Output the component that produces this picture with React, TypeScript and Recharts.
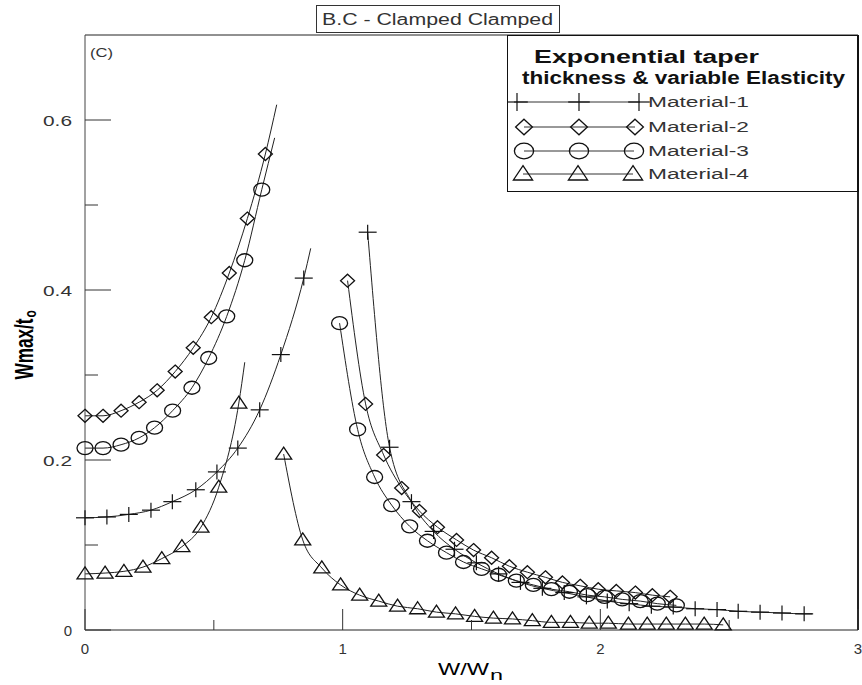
import React from 'react';
import { ComposedChart, Line, XAxis, YAxis, ReferenceLine, Legend, Label } from 'recharts';

const FONT = '"Liberation Sans", Arial, sans-serif';
const INK = '#111';
const TEXT = '#333';

// Material-1 (plus)
const m1LeftX = [0, 0.085, 0.17, 0.256, 0.339, 0.43, 0.512, 0.593, 0.678, 0.76, 0.849];
const m1LeftY = [0.132, 0.133, 0.136, 0.141, 0.151, 0.165, 0.186, 0.214, 0.259, 0.324, 0.414];
const m1LeftTail = [0.876, 0.449];
const m1RightX = [1.097, 1.182, 1.267, 1.353, 1.434, 1.519, 1.605, 1.69, 1.775, 1.86, 1.946, 2.027, 2.112, 2.198, 2.283, 2.368, 2.453, 2.535, 2.62, 2.705, 2.791];
const m1RightY = [0.468, 0.215, 0.151, 0.116, 0.095, 0.079, 0.066, 0.056, 0.049, 0.044, 0.039, 0.034, 0.031, 0.028, 0.027, 0.025, 0.024, 0.022, 0.021, 0.02, 0.019];
const m1RightTail = [2.822, 0.019];

// Material-2 (diamond)
const m2LeftX = [0, 0.07, 0.14, 0.21, 0.28, 0.35, 0.42, 0.49, 0.56, 0.63, 0.7];
const m2LeftY = [0.252, 0.252, 0.258, 0.268, 0.282, 0.304, 0.332, 0.368, 0.42, 0.484, 0.56];
const m2LeftTail = [0.744, 0.618];
const m2RightX = [1.019, 1.089, 1.159, 1.229, 1.298, 1.368, 1.442, 1.508, 1.578, 1.647, 1.717, 1.787, 1.853, 1.922, 1.992, 2.062, 2.136, 2.202, 2.271];
const m2RightY = [0.411, 0.266, 0.206, 0.167, 0.14, 0.121, 0.106, 0.094, 0.085, 0.075, 0.068, 0.062, 0.056, 0.052, 0.048, 0.046, 0.044, 0.041, 0.039];

// Material-3 (circle)
const m3LeftX = [0, 0.07, 0.14, 0.21, 0.27, 0.34, 0.415, 0.48, 0.55, 0.62, 0.686];
const m3LeftY = [0.214, 0.214, 0.218, 0.226, 0.238, 0.258, 0.285, 0.32, 0.369, 0.435, 0.518];
const m3LeftTail = [0.736, 0.579];
const m3RightX = [0.988, 1.058, 1.124, 1.19, 1.26, 1.329, 1.403, 1.469, 1.539, 1.605, 1.674, 1.74, 1.81, 1.88, 1.95, 2.016, 2.085, 2.155, 2.221, 2.295];
const m3RightY = [0.361, 0.236, 0.18, 0.147, 0.122, 0.105, 0.091, 0.08, 0.072, 0.065, 0.058, 0.053, 0.048, 0.045, 0.041, 0.039, 0.036, 0.034, 0.031, 0.029];

// Material-4 (triangle)
const m4LeftX = [0, 0.078, 0.151, 0.225, 0.298, 0.376, 0.45, 0.519, 0.597];
const m4LeftY = [0.066, 0.067, 0.069, 0.074, 0.084, 0.098, 0.121, 0.168, 0.267];
const m4LeftTail = [0.62, 0.315];
const m4RightX = [0.771, 0.845, 0.919, 0.992, 1.066, 1.14, 1.213, 1.291, 1.364, 1.438, 1.512, 1.585, 1.659, 1.736, 1.81, 1.884, 1.957, 2.031, 2.109, 2.182, 2.256, 2.33, 2.403, 2.477];
const m4RightY = [0.207, 0.106, 0.073, 0.053, 0.041, 0.034, 0.028, 0.025, 0.021, 0.019, 0.016, 0.014, 0.013, 0.011, 0.009, 0.009, 0.008, 0.008, 0.007, 0.007, 0.007, 0.007, 0.007, 0.006];

const xTicks = [0, 0.5, 1, 1.5, 2, 2.5, 3];
const yTicks = [0, 0.1, 0.2, 0.3, 0.4, 0.5, 0.6];
const legendNames = ['Material-1', 'Material-2', 'Material-3', 'Material-4'];

type Kind = 'plus' | 'diamond' | 'circle' | 'triangle';
type Pt = { x: number; y: number; tail?: boolean };

function series(xs: number[], ys: number[], tail?: number[]): Pt[] {
  const pts: Pt[] = xs.map((x, i) => ({ x, y: ys[i] }));
  if (tail) pts.push({ x: tail[0], y: tail[1], tail: true });
  return pts;
}

const branches: { id: string; kind: Kind; data: Pt[] }[] = [
  { id: 'm1L', kind: 'plus', data: series(m1LeftX, m1LeftY, m1LeftTail) },
  { id: 'm1R', kind: 'plus', data: series(m1RightX, m1RightY, m1RightTail) },
  { id: 'm2L', kind: 'diamond', data: series(m2LeftX, m2LeftY, m2LeftTail) },
  { id: 'm2R', kind: 'diamond', data: series(m2RightX, m2RightY) },
  { id: 'm3L', kind: 'circle', data: series(m3LeftX, m3LeftY, m3LeftTail) },
  { id: 'm3R', kind: 'circle', data: series(m3RightX, m3RightY) },
  { id: 'm4L', kind: 'triangle', data: series(m4LeftX, m4LeftY, m4LeftTail) },
  { id: 'm4R', kind: 'triangle', data: series(m4RightX, m4RightY) },
];

function Marker({ kind, cx, cy, s = 1 }: { kind: Kind; cx: number; cy: number; s?: number }) {
  const common = { fill: 'none', stroke: INK, strokeWidth: 1.3 };
  if (kind === 'plus') {
    return (
      <g stroke={INK} strokeWidth={1.2}>
        <line x1={cx - 9 * s} x2={cx + 9 * s} y1={cy} y2={cy} />
        <line x1={cx} x2={cx} y1={cy - 7.5 * s} y2={cy + 7.5 * s} />
      </g>
    );
  }
  if (kind === 'diamond') {
    return <polygon {...common} points={`${cx},${cy - 6.5 * s} ${cx + 7 * s},${cy} ${cx},${cy + 6.5 * s} ${cx - 7 * s},${cy}`} />;
  }
  if (kind === 'circle') {
    return <ellipse {...common} cx={cx} cy={cy} rx={8 * s} ry={6.5 * s} />;
  }
  return <polygon {...common} points={`${cx},${cy - 7 * s} ${cx + 8 * s},${cy + 5 * s} ${cx - 8 * s},${cy + 5 * s}`} />;
}

const dotFor = (kind: Kind) => (props: any) => {
  const { cx, cy, payload, index } = props;
  if (payload?.tail || cx == null || cy == null) return <g key={`${kind}-${index}`} />;
  return (
    <g key={`${kind}-${index}`}>
      <Marker kind={kind} cx={cx} cy={cy} />
    </g>
  );
};

function XTick(props: any) {
  const { x, y, payload } = props;
  const v = payload.value;
  const major = Number.isInteger(v);
  return (
    <g>
      <line x1={x} x2={x} y1={y} y2={y - (major ? 21 : 10)} stroke={TEXT} />
      {major && (
        <text x={x} y={y + 24} textAnchor="middle" fontSize={15} fill={TEXT} fontFamily={FONT}>
          {String(v)}
        </text>
      )}
    </g>
  );
}

function YTick(props: any) {
  const { x, y, payload } = props;
  const v = payload.value;
  const major = Math.round(v * 10) % 2 === 0;
  const label = v === 0 ? '0' : v.toFixed(1);
  return (
    <g>
      <line x1={x} x2={x + (major ? 26 : 13)} y1={y} y2={y} stroke={TEXT} />
      {major &&
        (label === '0' ? (
          <text x={x - 13} y={y + 6} textAnchor="end" fontSize={15} fill={TEXT} fontFamily={FONT}>
            0
          </text>
        ) : (
          <text x={x - 42} y={y + 6} fontSize={15} fill={TEXT} fontFamily={FONT} textLength={29} lengthAdjust="spacingAndGlyphs">
            {label}
          </text>
        ))}
    </g>
  );
}

function YLabel(props: any) {
  const vb = props.viewBox || { x: 0, y: 35, width: 85, height: 595 };
  const cy = vb.y + vb.height / 2 + 10;
  return (
    <g transform={`translate(${vb.x + 33},${cy + 37}) scale(1.4,1) rotate(-90)`} fontFamily={FONT} fill="#000">
      <text x={0} y={0} fontSize={18} fontWeight="bold" textLength={61} lengthAdjust="spacingAndGlyphs">
        Wmax/t
      </text>
      <text x={62} y={2} fontSize={12} fontWeight="bold">
        o
      </text>
    </g>
  );
}

function XLabel(props: any) {
  const vb = props.viewBox || { x: 85, y: 630, width: 773, height: 55 };
  const left = vb.x + vb.width / 2 - 33.5;
  const base = vb.y + 45;
  return (
    <g fontFamily={FONT} fill="#000">
      <text x={left} y={base} fontSize={17} textLength={51} lengthAdjust="spacingAndGlyphs">
        W/W
      </text>
      <text x={left + 52} y={base + 5} fontSize={15} textLength={13} lengthAdjust="spacingAndGlyphs">
        n
      </text>
    </g>
  );
}

const legendKinds: Kind[] = ['plus', 'diamond', 'circle', 'triangle'];
const legendRows = [
  { y: 67, line: [7, 133], marks: [10, 72, 132] },
  { y: 92, line: [17, 128], marks: [17, 72, 128] },
  { y: 116, line: [17, 127], marks: [17, 72, 127] },
  { y: 139, line: [16, 126], marks: [16, 71, 126] },
];

function LegendBox() {
  return (
    <svg width={352} height={157} style={{ display: 'block' }} fontFamily={FONT}>
      <rect x={0.5} y={0.5} width={350} height={156} fill="#fff" stroke={INK} />
      <line x1={351} x2={351} y1={0} y2={157} stroke={INK} strokeWidth={2} />
      <text x={27} y={28} fontSize={18} fontWeight="bold" fill="#111" textLength={225} lengthAdjust="spacingAndGlyphs">
        Exponential taper
      </text>
      <text x={15} y={49} fontSize={18} fontWeight="bold" fill="#111" textLength={323} lengthAdjust="spacingAndGlyphs">
        thickness &amp; variable Elasticity
      </text>
      {legendRows.map((r, i) => (
        <g key={legendNames[i]}>
          <line x1={r.line[0]} x2={r.line[1]} y1={r.y} y2={r.y} stroke={TEXT} />
          {r.marks.map((mx) => (
            <Marker key={mx} kind={legendKinds[i]} cx={mx} cy={r.y} s={1.2} />
          ))}
          <text x={141} y={r.y + 5} fontSize={14} fill={TEXT} textLength={101} lengthAdjust="spacingAndGlyphs">
            {legendNames[i]}
          </text>
        </g>
      ))}
    </svg>
  );
}

export default function App() {
  return (
    <div style={{ position: 'absolute', left: 0, top: 0, width: 862, height: 685, background: '#fff' }}>
      <ComposedChart width={862} height={685} margin={{ top: 35, right: 4, bottom: 0, left: 0 }}>
        <XAxis
          type="number"
          dataKey="x"
          domain={[0, 3]}
          ticks={xTicks}
          interval={0}
          height={55}
          tickSize={0}
          tickMargin={0}
          tick={<XTick />}
          axisLine={{ stroke: '#222' }}
          allowDuplicatedCategory={false}
        >
          <Label content={<XLabel />} />
        </XAxis>
        <YAxis
          type="number"
          dataKey="y"
          domain={[0, 0.7]}
          ticks={yTicks}
          interval={0}
          width={85}
          tickSize={0}
          tickMargin={0}
          tick={<YTick />}
          axisLine={{ stroke: '#444' }}
        >
          <Label content={<YLabel />} />
        </YAxis>
        <ReferenceLine y={0.7} stroke="#222" />
        <ReferenceLine x={3} stroke="#222" strokeWidth={2} />
        {branches.map((b) => (
          <Line
            key={b.id}
            data={b.data}
            dataKey="y"
            type="monotone"
            stroke="#222"
            strokeWidth={1}
            dot={dotFor(b.kind)}
            activeDot={false}
            legendType="none"
            isAnimationActive={false}
          />
        ))}
        <Legend
          content={<LegendBox />}
          layout="horizontal"
          verticalAlign="middle"
          align="center"
          wrapperStyle={{ position: 'absolute', left: 507, top: 35, width: 352, height: 157 }}
        />
      </ComposedChart>
      <svg
        width={862}
        height={685}
        style={{ position: 'absolute', left: 0, top: 0, pointerEvents: 'none' }}
        fontFamily={FONT}
      >
        <rect x={316.5} y={5.5} width={243} height={27} fill="#fff" stroke={TEXT} />
        <text x={322} y={25} fontSize={16} fill={TEXT} textLength={231} lengthAdjust="spacingAndGlyphs">
          B.C - Clamped Clamped
        </text>
        <text x={90} y={57} fontSize={12} fill={TEXT} textLength={23} lengthAdjust="spacingAndGlyphs">
          (C)
        </text>
      </svg>
    </div>
  );
}
